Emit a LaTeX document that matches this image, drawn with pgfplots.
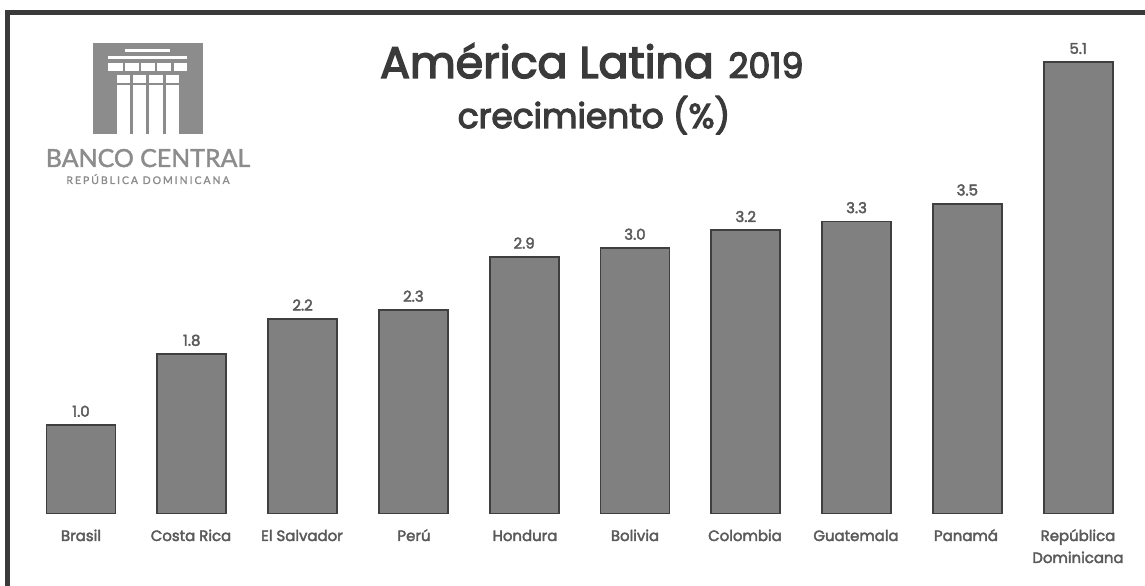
\documentclass[border=0pt]{standalone}
\usepackage{fontspec}
\setmainfont{Poppins}
\newfontfamily\medfont[FakeBold=2.6]{Poppins}
\newfontfamily\titlefont[FakeBold=3.4]{Poppins}
\newfontfamily\logofont[FakeBold=1.6]{Lato}
\newfontfamily\logosmall[FakeBold=1.6,LetterSpace=19]{Lato}
\usepackage{pgfplots}
\pgfplotsset{compat=1.18}
\definecolor{barfill}{HTML}{808080}
\definecolor{baredge}{HTML}{3F3F3F}
\definecolor{inkdark}{HTML}{3A3A3A}
\definecolor{inklabel}{HTML}{5A5A5A}
\definecolor{logogray}{HTML}{8C8C8C}
\begin{document}
\begin{tikzpicture}
\path[use as bounding box] (0,0) rectangle (1145bp,586bp);
\begin{axis}[
  at={(0,0)}, anchor=south west,
  scale only axis, width=1145bp, height=586bp,
  xmin=-0.7311, xmax=9.6033,
  ymin=-0.8192, ymax=5.8023,
  axis lines=none, clip=false,
  ybar, bar width=69bp,
  xtick=\empty, ytick=\empty,
  nodes near coords,
  nodes near coords style={font=\fontsize{15}{17}\medfont, text=inklabel,
    /pgf/number format/fixed, /pgf/number format/fixed zerofill,
    /pgf/number format/precision=1, /pgf/number format/assume math mode=true,
    yshift=4bp},
]
\addplot[fill=barfill, draw=baredge, line width=1.8bp] coordinates {
  (0,1.0) (1,1.8) (2,2.2) (3,2.3) (4,2.9)
  (5,3.0) (6,3.2) (7,3.3) (8,3.5) (9,5.1)};
\end{axis}
\begin{scope}[x=1bp, y=-1bp, shift={(0,586bp)}]
  % frame: top and left rules only
  \fill[inkdark] (5,10) rectangle (1145,15);
  \fill[inkdark] (5,10) rectangle (10,586);
  % titles
  \node[anchor=base, text=inkdark, font=\fontsize{44.5}{46}\titlefont] at (547,78) {América Latina};
  \node[anchor=base, text=inkdark, font=\fontsize{35}{38}\titlefont] at (766,78) {2019};
  \node[anchor=base, text=inkdark, font=\fontsize{34.5}{36}\titlefont] at (594,128) {crecimiento (\%)};
  % category names
  \foreach \px/\name in {81/Brasil, 191/Costa Rica, 302/El Salvador, 414/Perú, 525/Hondura,
      635/Bolivia, 745/Colombia, 856/Guatemala, 966/Panamá, 1078/República}
    \node[anchor=base, text=inklabel, font=\fontsize{15}{17}\medfont] at (\px,541) {\name};
  \node[anchor=base, text=inklabel, font=\fontsize{15}{17}\medfont] at (1078,563) {Dominicana};
  % central bank emblem
  \fill[logogray] (93,43) rectangle (203,134);
  \fill[white] (125,49) rectangle (170,52);
  \fill[white] (108,56) rectangle (187,59);
  \foreach \a/\b in {108/123,125/139,141/155,157/171,174/187}
    \fill[white] (\a,63) rectangle (\b,71);
  \fill[white] (117,75) rectangle (179,134);
  \foreach \a/\b in {130/133,146/149,163/166}
    \fill[logogray] (\a,75) rectangle (\b,134);
  \fill[logogray] (117,83) rectangle (179,85);
  \node[anchor=base, text=logogray, font=\fontsize{25}{28}\logofont] at (148,167) {BANCO CENTRAL};
  \node[anchor=base, text=logogray, font=\fontsize{10.5}{12}\logosmall] at (148,184) {REPÚBLICA DOMINICANA};
\end{scope}
\end{tikzpicture}
\end{document}
